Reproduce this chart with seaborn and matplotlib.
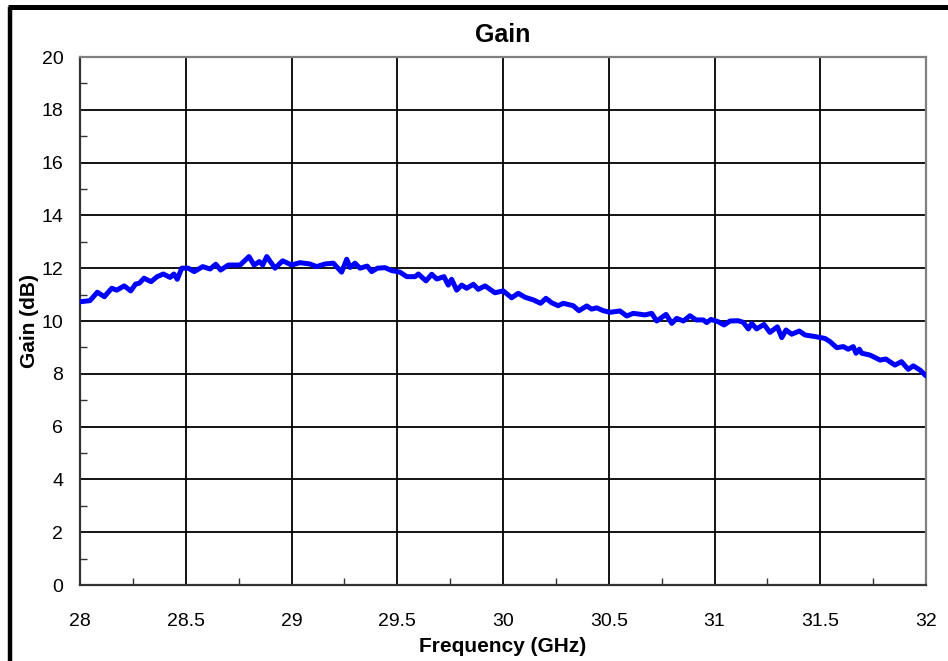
import numpy as np
import pandas as pd
import matplotlib
matplotlib.use("Agg")
import matplotlib.pyplot as plt
from matplotlib.lines import Line2D
from matplotlib.ticker import MultipleLocator
import seaborn as sns

freq_ghz = [
    28.000, 28.047, 28.082, 28.115, 28.150, 28.174, 28.209, 28.240, 28.263, 28.280,
    28.303, 28.336, 28.365, 28.394, 28.426, 28.444, 28.460, 28.481, 28.512, 28.540,
    28.580, 28.615, 28.642, 28.665, 28.701, 28.757, 28.799, 28.823, 28.848, 28.864,
    28.883, 28.922, 28.958, 29.001, 29.040, 29.087, 29.119, 29.158, 29.198, 29.237,
    29.261, 29.277, 29.300, 29.324, 29.358, 29.379, 29.406, 29.442, 29.474, 29.513,
    29.545, 29.584, 29.600, 29.636, 29.663, 29.687, 29.721, 29.741, 29.757, 29.781,
    29.805, 29.828, 29.860, 29.883, 29.915, 29.962, 30.001, 30.041, 30.072, 30.104,
    30.143, 30.178, 30.203, 30.230, 30.261, 30.285, 30.332, 30.359, 30.396, 30.419,
    30.443, 30.474, 30.506, 30.553, 30.585, 30.616, 30.671, 30.703, 30.727, 30.771,
    30.798, 30.821, 30.853, 30.884, 30.913, 30.947, 30.963, 30.983, 31.018, 31.045,
    31.073, 31.112, 31.136, 31.160, 31.176, 31.199, 31.234, 31.262, 31.297, 31.318,
    31.338, 31.365, 31.401, 31.428, 31.475, 31.522, 31.546, 31.578, 31.609, 31.632,
    31.656, 31.669, 31.685, 31.696, 31.735, 31.783, 31.810, 31.853, 31.884, 31.916,
    31.940, 31.972, 32.000,
]

gain_db = [
    10.73, 10.77, 11.09, 10.92, 11.24, 11.17, 11.33, 11.14, 11.40, 11.43,
    11.62, 11.49, 11.68, 11.78, 11.65, 11.78, 11.58, 12.00, 12.00, 11.87,
    12.06, 11.97, 12.15, 11.93, 12.12, 12.12, 12.44, 12.12, 12.25, 12.12,
    12.44, 12.00, 12.28, 12.12, 12.21, 12.16, 12.06, 12.16, 12.19, 11.85,
    12.34, 12.03, 12.19, 12.00, 12.08, 11.87, 12.00, 12.02, 11.91, 11.85,
    11.68, 11.68, 11.78, 11.52, 11.77, 11.59, 11.68, 11.36, 11.58, 11.17,
    11.36, 11.24, 11.39, 11.20, 11.33, 11.07, 11.14, 10.88, 11.05, 10.90,
    10.80, 10.67, 10.86, 10.69, 10.58, 10.67, 10.58, 10.39, 10.57, 10.45,
    10.50, 10.39, 10.33, 10.38, 10.19, 10.29, 10.23, 10.29, 10.00, 10.25,
    9.91, 10.10, 10.00, 10.20, 10.04, 10.04, 9.94, 10.06, 9.97, 9.85,
    10.00, 10.01, 9.95, 9.70, 9.91, 9.70, 9.87, 9.57, 9.78, 9.37,
    9.66, 9.50, 9.62, 9.47, 9.41, 9.34, 9.22, 8.99, 9.03, 8.93,
    9.03, 8.78, 8.93, 8.78, 8.71, 8.52, 8.56, 8.33, 8.46, 8.17,
    8.30, 8.14, 7.92,
]

x_ticks = [28, 28.5, 29, 29.5, 30, 30.5, 31, 31.5, 32]
x_tick_labels = ["28", "28.5", "29", "29.5", "30", "30.5", "31", "31.5", "32"]
y_ticks = [0, 2, 4, 6, 8, 10, 12, 14, 16, 18, 20]

df = pd.DataFrame({"Frequency (GHz)": freq_ghz, "Gain (dB)": gain_db})

sns.set_style("white")
plt.rcParams["font.family"] = ["Liberation Sans", "DejaVu Sans"]
plt.rcParams["text.color"] = "black"
plt.rcParams["axes.labelcolor"] = "black"
plt.rcParams["xtick.color"] = "black"
plt.rcParams["ytick.color"] = "black"

fig = plt.figure(figsize=(9.48, 6.61), dpi=100)
ax = fig.add_axes([80 / 948, 76 / 661, 846 / 948, 528 / 661])

sns.lineplot(data=df, x="Frequency (GHz)", y="Gain (dB)", ax=ax,
             color="#0000FF", linewidth=3.6, sort=False, zorder=3)

ax.set_xlim(28, 32)
ax.set_ylim(0, 20)
ax.set_xticks(x_ticks)
ax.set_xticklabels(x_tick_labels)
ax.set_yticks(y_ticks)
ax.xaxis.set_minor_locator(MultipleLocator(0.25))
ax.yaxis.set_minor_locator(MultipleLocator(1))

ax.grid(True, which="major", color="black", linewidth=1.3)
ax.tick_params(axis="both", which="both", bottom=True, left=True,
               top=False, right=False)
ax.tick_params(axis="both", which="major", direction="in", length=0,
               labelsize=14, labelcolor="black")
ax.tick_params(axis="x", which="major", pad=20)
ax.tick_params(axis="y", which="major", pad=12)
ax.tick_params(axis="both", which="minor", direction="in", length=5,
               width=1.0, color="#333333")

for side in ["left", "bottom"]:
    ax.spines[side].set_color("#333333")
    ax.spines[side].set_linewidth(1.6)
for side in ["top", "right"]:
    ax.spines[side].set_color("#808080")
    ax.spines[side].set_linewidth(1.6)
    ax.spines[side].set_visible(True)

ax.set_title("Gain", fontsize=18, fontweight="bold", pad=11, color="black")
ax.set_xlabel("Frequency (GHz)", fontsize=15, fontweight="bold", labelpad=5)
ax.set_ylabel("Gain (dB)", fontsize=15, fontweight="bold", labelpad=2)

# outer frame lines (left and top)
fig.add_artist(Line2D([10 / 948, 10 / 948], [0, 1 - 6.5 / 661],
                      transform=fig.transFigure, color="black", linewidth=3.2,
                      solid_capstyle="butt"))
fig.add_artist(Line2D([8 / 948, 1], [1 - 6.5 / 661, 1 - 6.5 / 661],
                      transform=fig.transFigure, color="black", linewidth=3.6,
                      solid_capstyle="butt"))

fig.savefig("out.png", dpi=100)
